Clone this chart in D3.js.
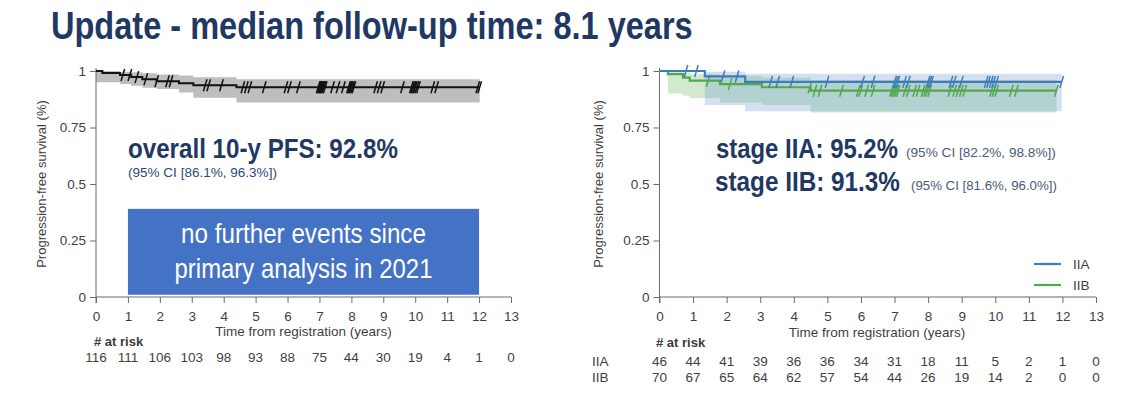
<!DOCTYPE html>
<html lang="en">
<head>
<meta charset="UTF-8">
<title>Update - median follow-up time: 8.1 years</title>
<script src="https://d3js.org/d3.v7.min.js"></script>
<style>
  body { margin: 0; background: #fff; }
  svg { display: block; }
  .axis path, .axis line { stroke: #6b6b6b; }
  .axis text { fill: #3f3f3f; font-family: "Liberation Sans", Arial, sans-serif; font-size: 13.5px; }
</style>
</head>
<body>
<svg id="chart" width="1132" height="412"></svg>
<script>
// ---- data ----
const xTicks = [0, 1, 2, 3, 4, 5, 6, 7, 8, 9, 10, 11, 12, 13];
const yTicks = [0, 0.25, 0.5, 0.75, 1];

// overall KM (step times, survival, 95% CI)
const overallTimes = [0, 0.2, 0.75, 1.1, 1.45, 1.9, 2.6, 3.05, 4.4, 12.02];
const overallSurv  = [1, 0.991, 0.982, 0.973, 0.964, 0.955, 0.946, 0.937, 0.928, 0.928];
const overallLower = [0.95, 0.95, 0.943, 0.935, 0.926, 0.92, 0.905, 0.882, 0.861, 0.861];
const overallUpper = [1, 1, 0.997, 0.994, 0.99, 0.985, 0.98, 0.972, 0.963, 0.963];
const overallCensor = [0.84, 1.06, 1.28, 1.56, 1.9, 2.24, 2.35, 3.42, 3.53, 3.93, 4.6, 4.71, 4.82,
  5.27, 5.95, 6.06, 6.34, 6.96, 6.99, 7.02, 7.05, 7.08, 7.11, 7.14, 7.18, 7.41, 7.58, 7.75,
  7.91, 7.94, 7.97, 8.0, 8.04, 8.08, 8.76, 8.87, 8.98, 9.6, 9.88, 9.92, 9.96, 10.0, 10.05, 10.1,
  10.55, 10.67, 11.96, 12.02];

// stage IIA
const iiaTimes = [0, 1.35, 2.55, 11.98];
const iiaSurv  = [1, 0.976, 0.952, 0.952];
const iiaLower = [1, 0.85, 0.822, 0.822];
const iiaUpper = [1, 0.997, 0.988, 0.988];
const iiaCensor = [0.79, 1.1, 1.89, 2.31, 3.31, 3.52, 3.94, 4.99, 6.05, 6.36, 7.0, 7.05, 7.1, 7.3,
  7.41, 8.0, 8.05, 8.1, 8.68, 8.78, 8.99, 9.73, 9.8, 9.88, 9.95, 10.04, 11.98];

// stage IIB
const iibTimes = [0, 0.25, 0.7, 0.9, 1.8, 3.05, 4.5, 11.82];
const iibSurv  = [1, 0.986, 0.971, 0.957, 0.942, 0.928, 0.913, 0.913];
const iibLower = [1, 0.9, 0.89, 0.88, 0.86, 0.85, 0.816, 0.816];
const iibUpper = [1, 0.998, 0.993, 0.986, 0.978, 0.97, 0.96, 0.96];
const iibCensor = [1.45, 2.1, 4.48, 4.63, 4.78, 5.42, 5.92, 5.99, 6.17, 6.36, 6.91, 6.96, 7.01,
  7.06, 7.11, 7.31, 7.41, 7.6, 7.7, 7.85, 7.92, 7.98, 8.05, 8.65, 8.79, 8.89, 8.99, 9.09,
  9.89, 9.96, 10.04, 10.48, 10.63, 11.82];

// numbers at risk
const riskOverall = [116, 111, 106, 103, 98, 93, 88, 75, 44, 30, 19, 4, 1, 0];
const riskIIA = [46, 44, 41, 39, 36, 36, 34, 31, 18, 11, 5, 2, 1, 0];
const riskIIB = [70, 67, 65, 64, 62, 57, 54, 44, 26, 19, 14, 2, 0, 0];

// ---- drawing ----
const SANS = '"Liberation Sans", Arial, sans-serif';
const NAVY = '#1f3864';
const BLUE = '#3f7cbc';
const GREEN = '#52a84c';

const svg = d3.select('#chart');

// no narrow font installed: squeeze Liberation Sans horizontally to the width seen in the picture
function narrowText(parent, str, x, y, width, size, bold, fill, anchor) {
  const t = parent.append('text')
    .style('font-family', SANS).style('font-size', size + 'px')
    .style('font-weight', bold ? 'bold' : 'normal')
    .attr('text-anchor', anchor || 'start')
    .attr('fill', fill).text(str);
  const k = width / t.node().getComputedTextLength();
  t.attr('transform', `translate(${x},${y}) scale(${k},1)`);
  return t;
}

narrowText(svg, 'Update - median follow-up time: 8.1 years', 51, 39, 642, 38, true, NAVY);

function toRows(times, surv, lower, upper) {
  return times.map((t, i) => ({ t: t, s: surv[i], lo: lower[i], hi: upper[i] }));
}

// survival value of a step curve at time t
function survAt(times, surv, t) {
  let v = surv[0];
  for (let i = 0; i < times.length; i++) if (times[i] <= t) v = surv[i];
  return v;
}

function drawPanel(g, x, y, labelOffset) {
  g.append('g')
    .attr('class', 'axis')
    .attr('transform', `translate(0,${y(0)})`)
    .call(d3.axisBottom(x).tickValues(xTicks).tickSize(6).tickSizeOuter(0).tickPadding(8))
    .select('.domain').attr('d', `M${x(0)},0H${x(13)}`);

  g.append('g')
    .attr('class', 'axis')
    .attr('transform', `translate(${x(0)},0)`)
    .call(d3.axisLeft(y).tickValues(yTicks).tickFormat(d => String(d)).tickSize(6).tickSizeOuter(0).tickPadding(4))
    .select('.domain').attr('d', `M0,${y(1) - 3}V${y(0) + 6}`);

  g.append('text')
    .attr('transform', `translate(${x(0) - labelOffset},${(y(0) + y(1)) / 2}) rotate(-90)`)
    .attr('text-anchor', 'middle')
    .style('font-family', SANS).style('font-size', '13px').attr('fill', '#3f3f3f')
    .text('Progression-free survival (%)');
}

function drawCurve(g, x, y, rows, censor, times, surv, color, bandColor, bandOpacity, width) {
  const area = d3.area().curve(d3.curveStepAfter)
    .x(d => x(d.t)).y0(d => y(d.lo)).y1(d => y(d.hi));
  g.append('path').datum(rows)
    .attr('d', area).attr('fill', bandColor).attr('fill-opacity', bandOpacity);
  return function () {
    const line = d3.line().curve(d3.curveStepAfter).x(d => x(d.t)).y(d => y(d.s));
    g.append('path').datum(rows)
      .attr('d', line).attr('fill', 'none').attr('stroke', color).attr('stroke-width', width);
    g.selectAll(null).data(censor).enter().append('line')
      .attr('x1', d => x(d) - 1.8).attr('x2', d => x(d) + 1.8)
      .attr('y1', d => y(survAt(times, surv, d)) + 6)
      .attr('y2', d => y(survAt(times, surv, d)) - 6)
      .attr('stroke', color).attr('stroke-width', 1.5);
  };
}

// ---------- left panel ----------
const xL = d3.scaleLinear().domain([0, 13]).range([96, 511]);
const yL = d3.scaleLinear().domain([0, 1]).range([297, 71]);
const gL = svg.append('g');

const finishOverall = drawCurve(gL, xL, yL, toRows(overallTimes, overallSurv, overallLower, overallUpper),
  overallCensor, overallTimes, overallSurv, '#111', '#bebebe', 1, 2);
drawPanel(gL, xL, yL, 50);
finishOverall();

narrowText(gL, 'overall 10-y PFS: 92.8%', 128, 158, 270, 27, true, NAVY);
narrowText(gL, '(95% CI [86.1%, 96.3%])', 128, 177, 149, 13, false, '#2c4a78');

gL.append('rect')
  .attr('x', xL(1)).attr('y', yL(0.39))
  .attr('width', xL(12) - xL(1)).attr('height', yL(0.01) - yL(0.39))
  .attr('fill', '#4472c4');
const boxLines = ['no further events since', 'primary analysis in 2021'];
const boxWidths = [245, 258];
boxLines.forEach((s, i) => {
  narrowText(gL, s, (xL(1) + xL(12)) / 2, 243 + i * 35, boxWidths[i], 27, false, '#fff', 'middle');
});

gL.append('text').attr('x', xL(6.5)).attr('y', 336)
  .attr('text-anchor', 'middle')
  .style('font-family', SANS).style('font-size', '13.5px').attr('fill', '#3f3f3f')
  .text('Time from registration (years)');
gL.append('text').attr('x', 94).attr('y', 346)
  .style('font-family', SANS).style('font-size', '13px').style('font-weight', 'bold').attr('fill', '#3a3a3a')
  .text('# at risk');
gL.selectAll(null).data(riskOverall).enter().append('text')
  .attr('x', (d, i) => xL(xTicks[i])).attr('y', 362)
  .attr('text-anchor', 'middle')
  .style('font-family', SANS).style('font-size', '13.5px').attr('fill', '#3f3f3f')
  .text(d => d);

// ---------- right panel ----------
const xR = d3.scaleLinear().domain([0, 13]).range([659.5, 1096]);
const yR = d3.scaleLinear().domain([0, 1]).range([297, 71]);
const gR = svg.append('g');

const finishIIB = drawCurve(gR, xR, yR, toRows(iibTimes, iibSurv, iibLower, iibUpper),
  iibCensor, iibTimes, iibSurv, GREEN, '#7fbf77', 0.35, 2.2);
const finishIIA = drawCurve(gR, xR, yR, toRows(iiaTimes, iiaSurv, iiaLower, iiaUpper),
  iiaCensor, iiaTimes, iiaSurv, BLUE, '#7fa7d3', 0.35, 2.2);
drawPanel(gR, xR, yR, 57);
finishIIB();
finishIIA();

const stageText = [
  { big: 'stage IIA: 95.2%', small: '(95% CI [82.2%, 98.8%])', x: 716, y: 158, bw: 182, sx: 906, sw: 150 },
  { big: 'stage IIB: 91.3%', small: '(95% CI [81.6%, 96.0%])', x: 715, y: 191, bw: 185, sx: 911, sw: 146 }
];
stageText.forEach(s => {
  narrowText(gR, s.big, s.x, s.y, s.bw, 28, true, NAVY);
  narrowText(gR, s.small, s.sx, s.y - 1, s.sw, 12.5, false, '#4a5a78');
});

// legend
const legendItems = [{ name: 'IIA', color: BLUE }, { name: 'IIB', color: GREEN }];
const lg = gR.selectAll(null).data(legendItems).enter().append('g')
  .attr('transform', (d, i) => `translate(1034,${264 + i * 21})`);
lg.append('line').attr('x1', 0).attr('x2', 27)
  .attr('stroke', d => d.color).attr('stroke-width', 2.2);
lg.append('text').attr('x', 39).attr('y', 5)
  .style('font-family', SANS).style('font-size', '13.5px').attr('fill', '#3f3f3f')
  .text(d => d.name);

gR.append('text').attr('x', 877).attr('y', 337)
  .attr('text-anchor', 'middle')
  .style('font-family', SANS).style('font-size', '13.5px').attr('fill', '#3f3f3f')
  .text('Time from registration (years)');
gR.append('text').attr('x', 656).attr('y', 347)
  .style('font-family', SANS).style('font-size', '13px').style('font-weight', 'bold').attr('fill', '#3a3a3a')
  .text('# at risk');

const riskRows = [{ name: 'IIA', values: riskIIA, y: 366 }, { name: 'IIB', values: riskIIB, y: 382 }];
riskRows.forEach(r => {
  gR.append('text').attr('x', 592).attr('y', r.y)
    .style('font-family', SANS).style('font-size', '13.5px').attr('fill', '#3f3f3f')
    .text(r.name);
  gR.selectAll(null).data(r.values).enter().append('text')
    .attr('x', (d, i) => xR(xTicks[i])).attr('y', r.y)
    .attr('text-anchor', 'middle')
    .style('font-family', SANS).style('font-size', '13.5px').attr('fill', '#3f3f3f')
    .text(d => d);
});
</script>
</body>
</html>
